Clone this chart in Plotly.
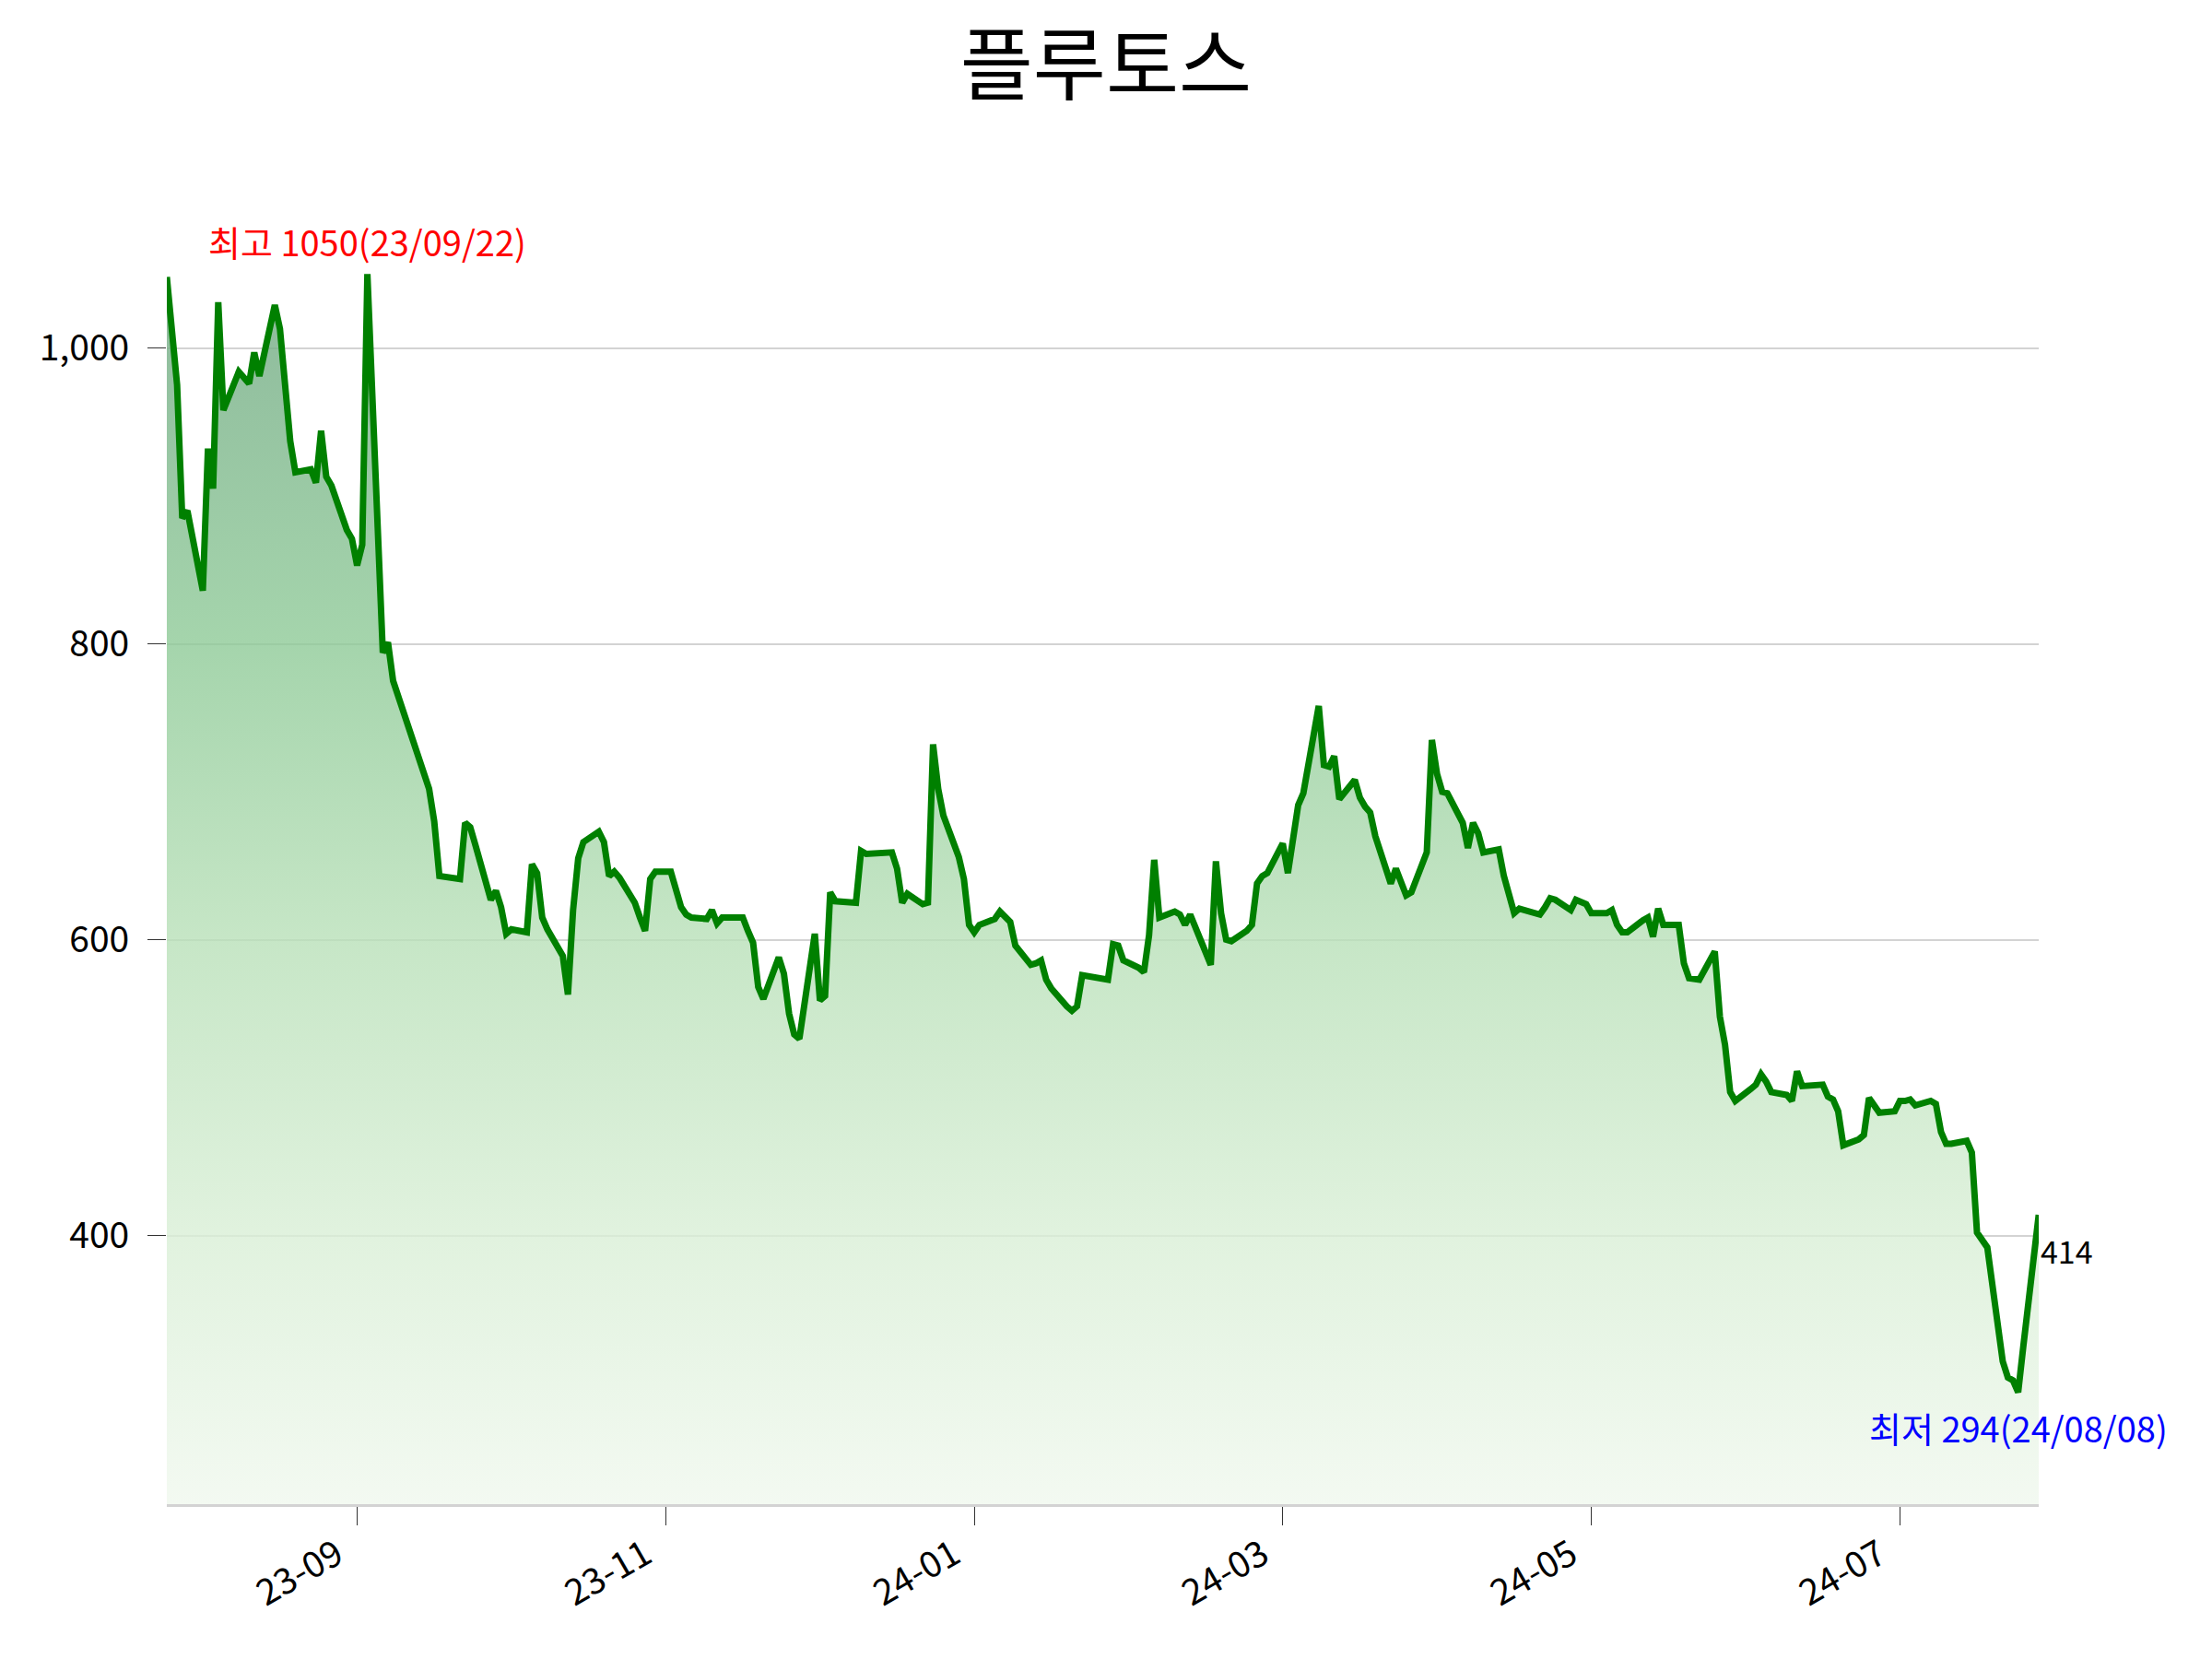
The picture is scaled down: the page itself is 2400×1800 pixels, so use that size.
import plotly.graph_objects as go

TITLE = "플루토스"

# trading days (day of month) and closing prices, month by month
aug23_days = [14, 16, 17, 18, 21, 22, 23, 24, 25, 28, 29, 30, 31]
aug23_close = [1048, 975, 885, 890, 836, 932, 905, 1031, 958, 984, 980, 976, 997]
sep23_days = [1, 4, 5, 6, 7, 8, 11, 12, 13, 14, 15, 18, 19, 20, 21, 22, 25, 26, 27]
sep23_close = [981, 1029, 1013, 975, 937, 916, 918, 909, 944, 913, 907, 877, 871, 853, 867, 1050, 794, 801, 775]
oct23_days = [4, 5, 6, 10, 11, 12, 13, 16, 17, 18, 19, 20, 23, 24, 25, 26, 27, 30, 31]
oct23_close = [702, 680, 643, 641, 679, 676, 664, 627, 633, 622, 604, 607, 605, 651, 645, 615, 607, 589, 563]
nov23_days = [1, 2, 3, 6, 7, 8, 9, 10, 13, 14, 15, 16, 17, 20, 21, 22, 23, 24, 27, 28, 29, 30]
nov23_close = [620, 655, 666, 673, 666, 643, 646, 642, 625, 615, 606, 641, 646, 646, 633, 622, 617, 615, 614, 620, 611, 615]
dec23_days = [1, 4, 5, 6, 7, 8, 11, 12, 13, 14, 15, 18, 19, 20, 21, 22, 26, 27, 28]
dec23_close = [615, 615, 606, 598, 568, 560, 588, 577, 550, 536, 533, 604, 559, 562, 632, 626, 625, 660, 658]
jan24_days = [2, 3, 4, 5, 8, 9, 10, 11, 12, 15, 16, 17, 18, 19, 22, 23, 24, 25, 26, 29, 30, 31]
jan24_close = [659, 648, 625, 631, 624, 625, 732, 702, 684, 656, 641, 610, 605, 610, 614, 619, 615, 612, 596, 583, 584, 586]
feb24_days = [1, 2, 5, 6, 7, 8, 13, 14, 15, 16, 19, 20, 21, 22, 23, 26, 27, 28, 29]
feb24_close = [573, 567, 555, 552, 555, 576, 573, 597, 596, 586, 581, 578, 603, 654, 615, 619, 617, 610, 617]
mar24_days = [4, 5, 6, 7, 8, 11, 12, 13, 14, 15, 18, 19, 20, 21, 22, 25, 26, 27, 28, 29]
mar24_close = [583, 653, 618, 600, 599, 606, 610, 638, 643, 645, 665, 645, 670, 691, 699, 758, 718, 717, 724, 695]
apr24_days = [1, 2, 3, 4, 5, 8, 9, 11, 12, 15, 16, 17, 18, 19, 22, 23, 24, 25, 26, 29, 30]
apr24_close = [708, 696, 690, 686, 670, 638, 648, 630, 632, 659, 735, 712, 700, 699, 679, 662, 679, 672, 659, 661, 643]
may24_days = [2, 3, 7, 8, 9, 10, 13, 14, 16, 17, 20, 21, 22, 23, 24, 27, 28, 29, 30, 31]
may24_close = [618, 621, 617, 622, 628, 627, 620, 627, 624, 618, 618, 620, 610, 605, 605, 613, 615, 602, 621, 610]
jun24_days = [3, 4, 5, 7, 10, 11, 12, 13, 14, 17, 18, 19, 20, 21, 24, 25, 26, 27, 28]
jun24_close = [610, 584, 574, 573, 592, 548, 529, 497, 491, 499, 502, 509, 504, 497, 495, 491, 511, 501, 501]
jul24_days = [1, 2, 3, 4, 5, 8, 9, 10, 11, 12, 15, 16, 17, 18, 19, 22, 23, 24, 25, 26, 29, 30, 31]
jul24_close = [502, 494, 492, 484, 461, 465, 468, 493, 488, 483, 484, 491, 491, 492, 488, 491, 489, 470, 462, 462, 464, 456, 402]
aug24_days = [1, 2, 5, 6, 7, 8, 9, 12]
aug24_close = [396, 392, 315, 304, 302, 294, 325, 414]

MONTHS = [
    ("2023-08", aug23_days, aug23_close), ("2023-09", sep23_days, sep23_close),
    ("2023-10", oct23_days, oct23_close), ("2023-11", nov23_days, nov23_close),
    ("2023-12", dec23_days, dec23_close), ("2024-01", jan24_days, jan24_close),
    ("2024-02", feb24_days, feb24_close), ("2024-03", mar24_days, mar24_close),
    ("2024-04", apr24_days, apr24_close), ("2024-05", may24_days, may24_close),
    ("2024-06", jun24_days, jun24_close), ("2024-07", jul24_days, jul24_close),
    ("2024-08", aug24_days, aug24_close),
]

dates, close = [], []
for ym, ds, cs in MONTHS:
    assert len(ds) == len(cs), ym
    dates += [f"{ym}-{d:02d}" for d in ds]
    close += cs

hi = max(close)
hi_date = dates[close.index(hi)]
lo = min(close)
lo_date = dates[close.index(lo)]


def short(d):
    return d[2:].replace("-", "/")


Y_MIN = lo - (hi - lo) * 0.1
Y_MAX = hi + (hi - lo) * 0.1

FONT = "Noto Sans CJK KR"

fig = go.Figure()
fig.add_trace(go.Scatter(
    x=dates, y=close, mode="lines",
    line=dict(color="#008000", width=7),
    fill="tozeroy",
    fillgradient=dict(
        type="vertical",
        start=Y_MIN, stop=hi,
        colorscale=[
            [0.0, "rgba(240,248,238,0.8)"],
            [0.22, "rgba(217,239,214,0.8)"],
            [0.46, "rgba(184,224,184,0.8)"],
            [0.70, "rgba(142,202,151,0.8)"],
            [1.0, "rgba(112,168,130,0.8)"],
        ],
    ),
    hoverinfo="x+y",
    showlegend=False,
))

fig.add_annotation(x=hi_date, y=hi, text=f"최고 {hi}({short(hi_date)})",
                   showarrow=False, yanchor="bottom", yshift=6,
                   font=dict(color="red", size=38, family=FONT))
fig.add_annotation(x=lo_date, y=lo, text=f"최저 {lo}({short(lo_date)})",
                   showarrow=False, yanchor="top", yshift=-8,
                   font=dict(color="blue", size=38, family=FONT))
fig.add_annotation(x=dates[-1], y=close[-1], text=f"{close[-1]}",
                   showarrow=False, xanchor="left", yanchor="top", yshift=-12,
                   font=dict(color="black", size=34, family=FONT))

fig.update_layout(
    width=2400, height=1800,
    paper_bgcolor="white", plot_bgcolor="white",
    margin=dict(l=181, r=188, t=176, b=168),
    font=dict(family=FONT, color="black", size=38),
    title=dict(text=TITLE, x=0.5, xanchor="center", y=1 - 72 / 1800, yanchor="middle",
               font=dict(size=86, family=FONT, color="black")),
    xaxis=dict(
        type="date", range=[dates[0], dates[-1]],
        tick0="2023-09-20", dtick=60 * 24 * 3600 * 1000, tickformat="%y-%m",
        tickangle=-30, ticks="outside", ticklen=20, tickwidth=1, tickcolor="#333333",
        ticklabelshift=-22, ticklabelstandoff=-6,
        showline=True, linecolor="#d3d3d3", linewidth=3,
        showgrid=False, zeroline=False,
        tickfont=dict(size=39, family=FONT),
    ),
    yaxis=dict(
        range=[Y_MIN, Y_MAX], dtick=200, tick0=0, tickformat=",d",
        ticks="outside", ticklen=20, tickwidth=1, tickcolor="#333333",
        showline=False, showgrid=True, gridcolor="#d3d3d3", gridwidth=1.5,
        zeroline=False, ticklabelstandoff=12,
        tickfont=dict(size=39, family=FONT),
    ),
)

fig.write_html("out.html", config={"displayModeBar": False},
               post_script="document.body.style.margin='0';document.body.style.overflow='hidden';")
